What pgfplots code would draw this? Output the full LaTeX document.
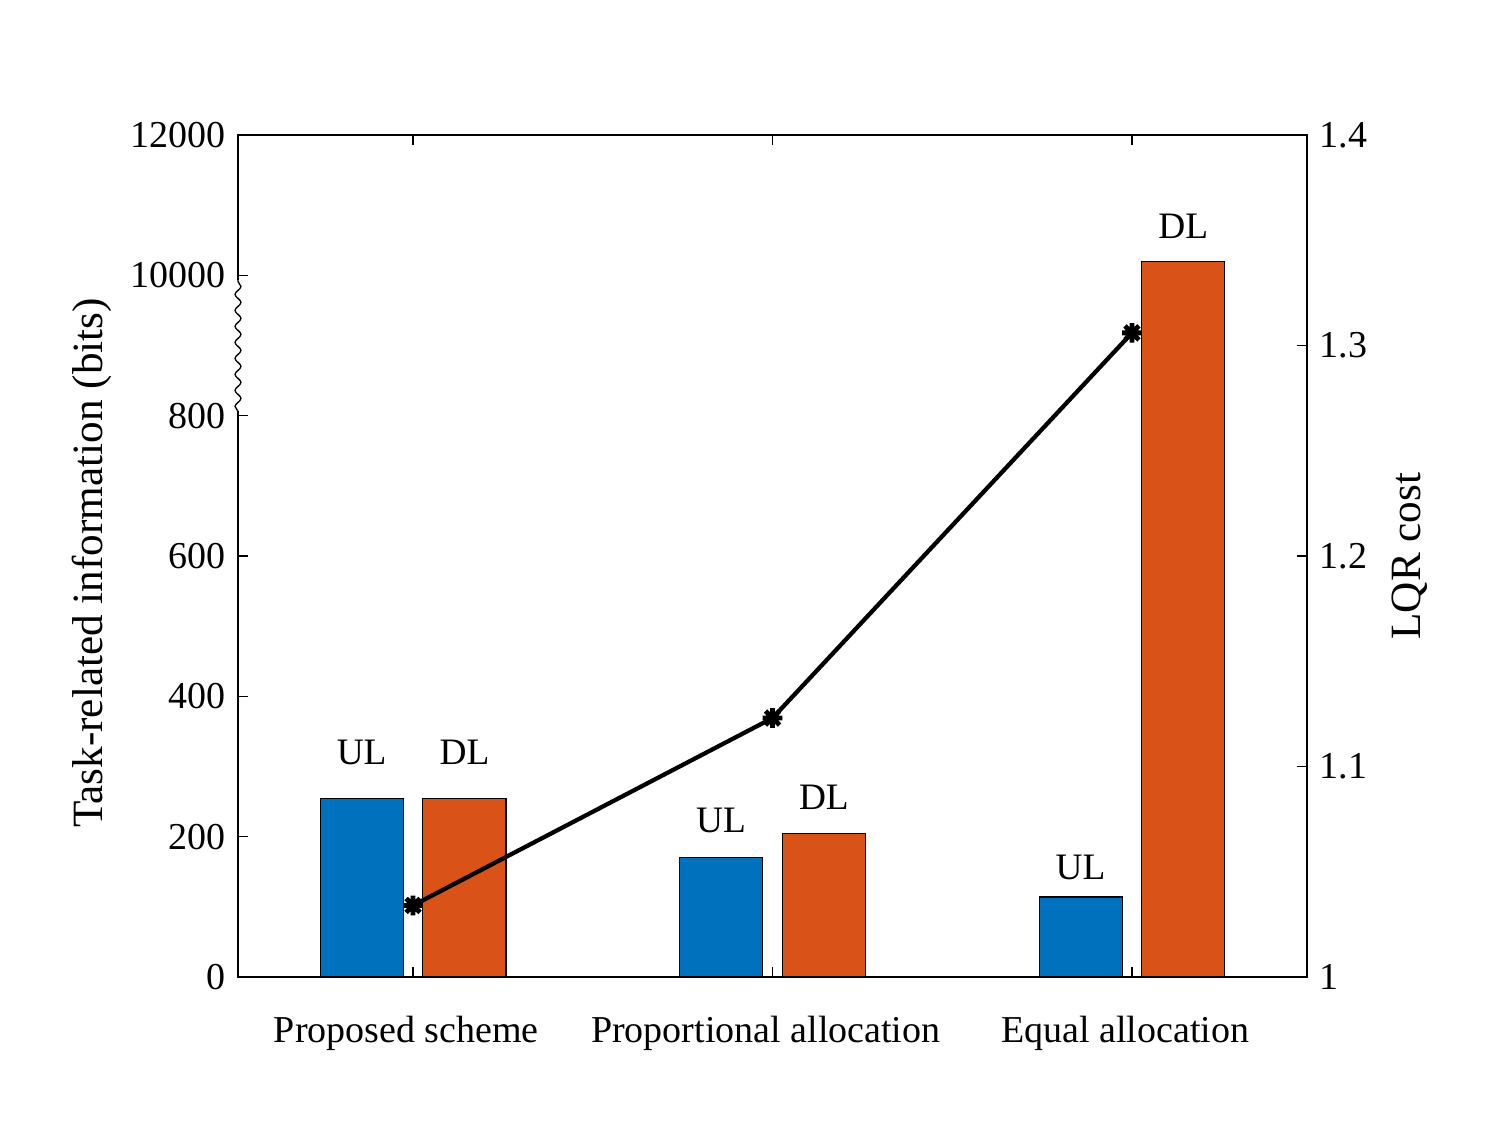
\documentclass[border=0pt]{standalone}
\usepackage{pgfplots}
\pgfplotsset{compat=1.18}
\usepackage{fontspec}
\setmainfont{Liberation Serif}
\usetikzlibrary{decorations.pathmorphing}
\definecolor{mblue}{RGB}{0,114,189}
\definecolor{morange}{RGB}{217,83,25}
\pgfdeclareplotmark{star8}{%
  \pgfpathmoveto{\pgfqpoint{\pgfplotmarksize}{0pt}}\pgfpathlineto{\pgfqpoint{-\pgfplotmarksize}{0pt}}%
  \pgfpathmoveto{\pgfqpoint{0pt}{\pgfplotmarksize}}\pgfpathlineto{\pgfqpoint{0pt}{-\pgfplotmarksize}}%
  \pgfpathmoveto{\pgfqpoint{0.7071\pgfplotmarksize}{0.7071\pgfplotmarksize}}\pgfpathlineto{\pgfqpoint{-0.7071\pgfplotmarksize}{-0.7071\pgfplotmarksize}}%
  \pgfpathmoveto{\pgfqpoint{-0.7071\pgfplotmarksize}{0.7071\pgfplotmarksize}}\pgfpathlineto{\pgfqpoint{0.7071\pgfplotmarksize}{-0.7071\pgfplotmarksize}}%
  \pgfusepathqstroke}
\begin{document}
\begin{tikzpicture}
\path[use as bounding box] (-89.25pt,-63.75pt) rectangle (471pt,366.375pt);
\pgfplotsset{
  common/.style={
    scale only axis, width=400.875pt, height=315.75pt,
    xmin=0.513, xmax=3.487,
    tick align=inside, major tick length=3.75pt,
    tick style={line width=0.5pt, black},
    axis line style={line width=0.5pt},
    font=\fontsize{14.25}{17}\selectfont,
    /pgf/number format/assume math mode=true,
    label style={font=\fontsize{16.2}{19}\selectfont},
    clip=false,
  }
}
\begin{axis}[common,
  ymin=0, ymax=12000,
  y coord trafo/.code={\pgfmathparse{#1>900?1000+(#1-10000)/10:#1}},
  xtick={1,2,3},
  xticklabels={Proposed scheme, Proportional allocation, Equal allocation},
  xticklabel style={yshift=-11.25pt, xshift=-2.5pt},
  ytick={0,200,400,600,800,10000,12000},
  yticklabels={0,200,400,600,800,10000,12000},
  yticklabel style={xshift=-1.3pt},
  xtick pos=both, ytick pos=left,
  ylabel={Task-related information (bits)},
  ylabel style={at={(axis description cs:-0.1366,0.4917)}, anchor=center},
]
\addplot[ybar, bar width=0.231, bar shift=-0.143, fill=mblue, draw=black, line width=0.4pt]
  coordinates {(1,254) (2,170) (3,114)};
\addplot[ybar, bar width=0.231, bar shift=0.143, fill=morange, draw=black, line width=0.4pt]
  coordinates {(1,254) (2,204) (3,10200)};
\node[font=\fontsize{14}{17}\selectfont] at (axis cs:0.857,320.7) {UL};
\node[font=\fontsize{14}{17}\selectfont] at (axis cs:1.143,320.7) {DL};
\node[font=\fontsize{14}{17}\selectfont] at (axis cs:1.857,223.8) {UL};
\node[font=\fontsize{14}{17}\selectfont] at (axis cs:2.143,256.6) {DL};
\node[font=\fontsize{14}{17}\selectfont] at (axis cs:2.857,156.8) {UL};
\node[font=\fontsize{14}{17}\selectfont] at (axis cs:3.143,10705) {DL};
\coordinate (wA) at (rel axis cs:0,0.6717);
\coordinate (wB) at (rel axis cs:0,0.8283);
\end{axis}
\begin{axis}[common,
  ymin=1, ymax=1.4,
  axis y line*=right, axis x line=none,
  ytick={1,1.1,1.2,1.3,1.4},
  yticklabels={1,1.1,1.2,1.3,1.4},
  yticklabel style={xshift=1.3pt},
  ylabel={LQR cost},
  ylabel style={at={(axis description cs:1.0964,0.5)}, anchor=center},
]
\addplot[black, line width=1.6pt, mark=star8, mark size=3.7pt, mark options={line width=1.8pt}]
  coordinates {(1,1.034) (2,1.123) (3,1.306)};
\end{axis}
\draw[white, line width=2pt] (wA) -- (wB);
\draw[decorate, decoration={snake, amplitude=1.1pt, segment length=6pt}, line width=0.5pt] (wA) -- (wB);
\end{tikzpicture}
\end{document}
